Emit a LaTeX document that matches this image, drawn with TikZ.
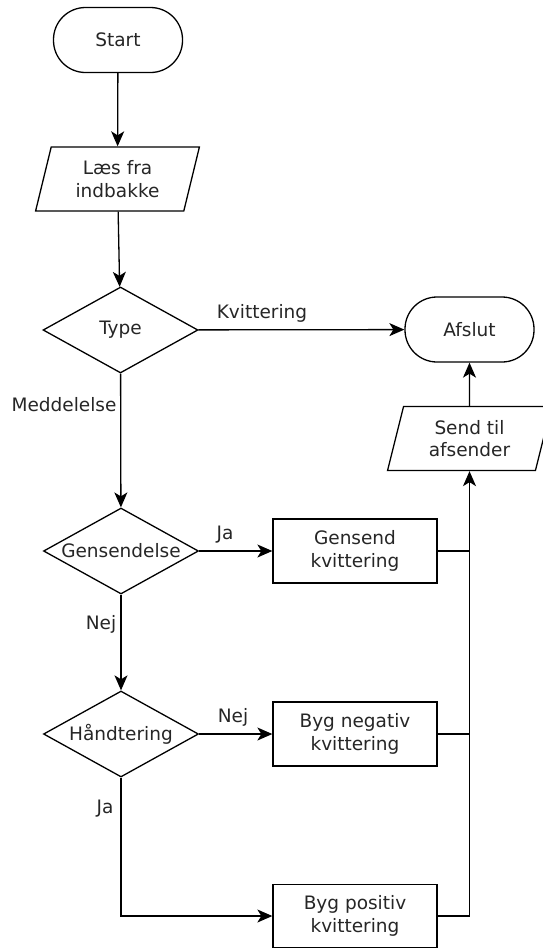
\documentclass[tikz,border=0pt]{standalone}
\usepackage{fontspec}
\setmainfont{DejaVu Sans}
\usetikzlibrary{shapes.geometric,arrows.meta}
\begin{document}
\begin{tikzpicture}[x=1pt,y=-1pt,
  every node/.style={font=\fontsize{18.5}{22.5}\selectfont, text=black!85},
  base/.style={draw, line width=1.3pt, inner sep=0pt, align=center},
  term/.style={base, rectangle, rounded corners=32pt, minimum width=129pt, minimum height=65pt},
  io/.style={base, trapezium, trapezium left angle=75, trapezium right angle=105, trapezium stretches=true, minimum width=164pt, minimum height=64pt},
  dec/.style={base, diamond, minimum width=155pt, minimum height=86pt, aspect=1.8},
  proc/.style={base, rectangle, minimum width=164pt, minimum height=64pt},
  conn/.style={line width=1.3pt, -{Stealth[length=15pt,width=13pt,inset=4pt]}},
  wire/.style={line width=1.3pt},
  lbl/.style={inner sep=0pt}]
\useasboundingbox[fill=white] (0,0) rectangle (543,948);
\node[term] (start) at (118,40) {Start};
\node[io] (read) at (117.5,179) {Læs fra\\indbakke};
\node[dec] (type) at (120.5,330) {Type};
\node[term] (afslut) at (469.5,329.5) {Afslut};
\node[io] (send) at (469.5,438.5) {Send til\\afsender};
\node[dec] (gens) at (121,551) {Gensendelse};
\node[proc] (gbox) at (355,551) {Gensend\\kvittering};
\node[dec] (hand) at (121,734) {Håndtering};
\node[proc] (nbox) at (355,734) {Byg negativ\\kvittering};
\node[proc, minimum height=63pt] (pbox) at (355,916) {Byg positiv\\kvittering};

\node[lbl] (lk) at (262,313) {Kvittering};
\node[lbl] (lm) at (64,405) {Meddelelse};
\node[lbl] (lja1) at (225,535) {Ja};
\node[lbl] (lnej1) at (101,624) {Nej};
\node[lbl] (lnej2) at (233,717) {Nej};
\node[lbl] (lja2) at (105,809) {Ja};

\coordinate (j) at (send.south |- pbox.east);

\draw[conn] (start) -- (read);
\draw[conn] (read) -- (type);
\draw[conn] (type) -- (afslut);
\draw[conn] (type) -- (gens);
\draw[conn] (gens) -- (gbox);
\draw[conn] (gens) -- (hand);
\draw[conn] (hand) -- (nbox);
\draw[conn] (hand.south) |- (pbox.west);
\draw[conn] (pbox.east) -- (j) -- (send.south);
\draw[wire] (gbox.east) -- (gbox.east -| j);
\draw[wire] (nbox.east) -- (nbox.east -| j);
\draw[conn] (send) -- (afslut);
\end{tikzpicture}
\end{document}
